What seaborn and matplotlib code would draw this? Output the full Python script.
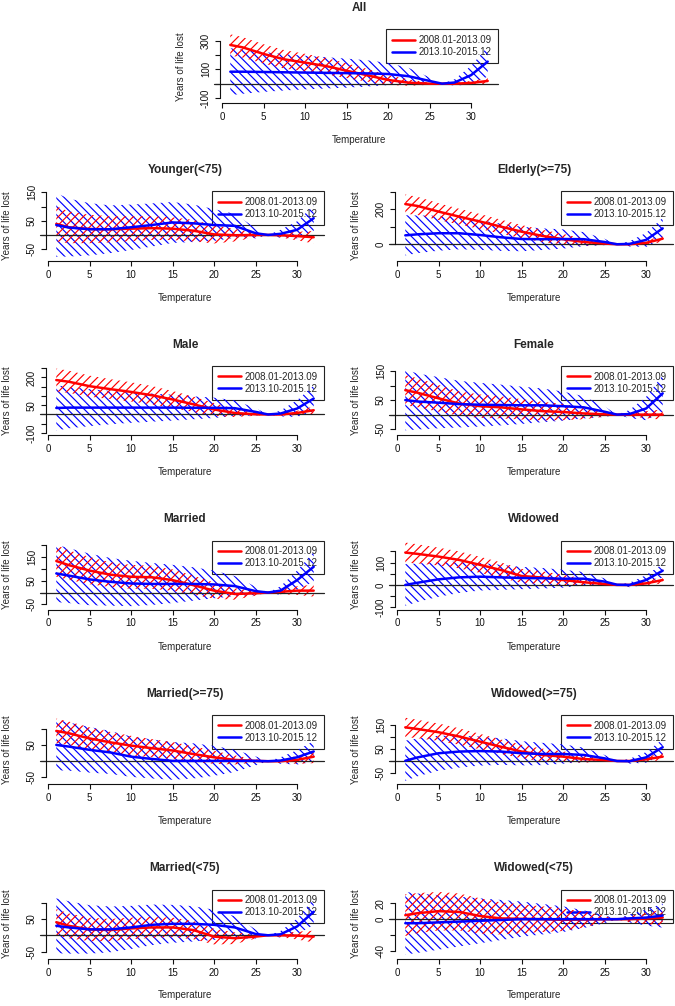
import numpy as np
import pandas as pd
import matplotlib
matplotlib.use("Agg")
import matplotlib.pyplot as plt
from matplotlib.lines import Line2D
import seaborn as sns

# temperature grid
temps = [1, 2.5, 5, 7.5, 10, 12.5, 15, 17.5, 20, 22.5, 25, 26.5, 28, 30, 32]
periods = ["2008.01-2013.09", "2013.10-2015.12"]

# estimate and half width of the CI, red = first period, blue = second
all_red = [272, 255, 209, 171, 148, 124, 91, 59, 26, 7, 0, 0, 0, 5, 19]
all_red_ci = [75, 72, 68, 65, 62, 58, 52, 45, 35, 22, 8, 0, 6, 14, 22]
all_blue = [84, 84, 82, 80, 78, 76, 74, 72, 68, 52, 19, 0, 8, 60, 155]
all_blue_ci = [165, 155, 140, 128, 118, 110, 102, 92, 78, 58, 25, 0, 22, 65, 105]

yng_red = [39, 27, 21, 20, 22, 24, 22, 15, 2, -1, 0, 0, -1, -4, -8]
yng_red_ci = [62, 56, 50, 46, 44, 42, 40, 38, 32, 22, 8, 0, 8, 15, 22]
yng_blue = [35, 26, 20, 20, 27, 35, 44, 41, 35, 32, 6, 0, 4, 18, 59]
yng_blue_ci = [112, 102, 92, 84, 80, 76, 72, 66, 56, 42, 18, 0, 14, 30, 45]

eld_red = [230, 219, 187, 158, 130, 101, 72, 48, 29, 13, 4, 0, 0, 8, 32]
eld_red_ci = [55, 52, 48, 45, 43, 40, 38, 35, 30, 20, 8, 0, 6, 12, 18]
eld_blue = [51, 57, 63, 63, 53, 40, 30, 29, 30, 29, 13, 0, 2, 25, 91]
eld_blue_ci = [115, 108, 100, 92, 85, 78, 70, 62, 55, 40, 18, 0, 15, 40, 60]

male_red = [186, 177, 153, 137, 122, 104, 81, 55, 27, 8, 1, 0, 0, 8, 23]
male_red_ci = [62, 60, 57, 54, 52, 50, 46, 42, 35, 22, 8, 0, 6, 12, 20]
male_blue = [35, 37, 37, 37, 37, 37, 37, 36, 36, 34, 14, 0, 5, 32, 86]
male_blue_ci = [122, 112, 100, 90, 82, 76, 70, 62, 55, 42, 20, 0, 16, 45, 70]

fem_red = [84, 75, 56, 38, 29, 25, 18, 12, 9, 4, 1, 0, 0, 0, 0]
fem_red_ci = [52, 50, 46, 42, 40, 38, 35, 32, 28, 20, 8, 0, 6, 12, 18]
fem_blue = [50, 45, 41, 36, 34, 33, 32, 32, 29, 25, 10, 0, 2, 21, 73]
fem_blue_ci = [104, 96, 88, 80, 75, 70, 64, 58, 50, 38, 18, 0, 14, 40, 62]

mar_red = [132, 115, 92, 75, 66, 64, 52, 31, 8, -6, -3, 0, 3, 8, 8]
mar_red_ci = [66, 62, 57, 52, 50, 48, 45, 40, 34, 24, 10, 0, 10, 18, 25]
mar_blue = [80, 71, 55, 45, 38, 36, 36, 36, 34, 27, 6, 0, 8, 52, 108]
mar_blue_ci = [120, 115, 108, 100, 95, 88, 80, 70, 58, 42, 18, 0, 18, 40, 62]

wid_red = [145, 139, 127, 112, 90, 67, 40, 33, 22, 12, 4, 0, 0, 7, 22]
wid_red_ci = [45, 43, 40, 38, 36, 34, 32, 28, 24, 16, 6, 0, 5, 10, 15]
wid_blue = [0, 10, 25, 34, 37, 34, 31, 30, 28, 28, 15, 1, 0, 22, 64]
wid_blue_ci = [93, 86, 78, 70, 62, 56, 50, 46, 40, 30, 14, 0, 10, 22, 30]

mar75_red = [93, 86, 70, 58, 48, 40, 33, 22, 12, 4, 1, 0, 0, 4, 14]
mar75_red_ci = [38, 36, 34, 32, 30, 28, 26, 24, 20, 14, 5, 0, 5, 12, 20]
mar75_blue = [50, 45, 35, 27, 14, 7, 1, 1, 1, 1, 1, 0, 2, 12, 30]
mar75_blue_ci = [78, 74, 70, 66, 62, 60, 58, 54, 46, 34, 14, 0, 10, 22, 32]

wid75_red = [139, 132, 119, 101, 80, 59, 39, 25, 18, 8, 4, 0, 0, 7, 18]
wid75_red_ci = [40, 38, 36, 34, 32, 30, 28, 26, 22, 15, 6, 0, 5, 10, 15]
wid75_blue = [1, 15, 32, 39, 41, 39, 32, 29, 29, 25, 11, 0, -1, 15, 57]
wid75_blue_ci = [83, 78, 72, 66, 60, 55, 50, 46, 40, 30, 14, 0, 10, 22, 32]

mary_red = [40, 29, 18, 16, 21, 24, 24, 16, -4, -9, -4, 0, 0, -1, -4]
mary_red_ci = [40, 38, 36, 34, 33, 32, 30, 28, 24, 18, 6, 0, 6, 12, 18]
mary_blue = [29, 24, 18, 18, 24, 32, 35, 35, 32, 24, 4, 0, 3, 27, 72]
mary_blue_ci = [84, 80, 74, 70, 66, 62, 58, 54, 46, 34, 14, 0, 10, 24, 40]

widy_red = [5, 7.5, 10, 9, 4, 1, 0.4, 0, -0.8, -0.4, 0, 0, 0, 0.8, 2]
widy_red_ci = [26, 25, 24, 23, 22, 20, 18, 16, 14, 10, 4, 0, 4, 7, 10]
widy_blue = [-5, -5, -4, -3, -2, -1, 0, 0, 0, 0, 0, 0, 1, 2, 4.5]
widy_blue_ci = [39, 37, 34, 31, 28, 25, 22, 19, 16, 11, 5, 0, 5, 10, 15]

sns.set_style("ticks")
plt.rcParams["font.family"] = ["Liberation Sans", "DejaVu Sans"]
plt.rcParams["hatch.linewidth"] = 0.85

W, H = 675, 1006
fig = plt.figure(figsize=(W / 100, H / 100), dpi=100)
PX = 0.72  # points per pixel at dpi 100

RED = "#FF0000"
BLUE = "#0000FF"


def draw_panel(left, bottom, height, title, red, red_ci, blue, blue_ci,
               ylim, yticks, ylabels):
    width = 278
    ax = fig.add_axes([left / W, 1 - bottom / H, width / W, height / H])
    t = np.array(temps, dtype=float)

    # blue band first so the red hatch stays visible on top of it
    for est, ci, col, hatch in ((blue, blue_ci, BLUE, "\\\\\\\\"),
                                (red, red_ci, RED, "////")):
        est = np.array(est, dtype=float)
        ci = np.array(ci, dtype=float)
        ax.fill_between(t, est - ci, est + ci, facecolor="none", edgecolor=col,
                        hatch=hatch, linewidth=0, zorder=2)

    df = pd.DataFrame({
        "temp": temps * 2,
        "yll": list(red) + list(blue),
        "period": [periods[0]] * len(temps) + [periods[1]] * len(temps),
    })
    sns.lineplot(data=df, x="temp", y="yll", hue="period",
                 palette=[RED, BLUE], linewidth=1.8, ax=ax, legend=False,
                 zorder=3)

    ax.axhline(0, xmin=-0.022, xmax=1, color="#222222", lw=0.9, zorder=2.5,
               clip_on=False)

    ax.set_xlim(-0.24, 33.24)
    ax.set_ylim(*ylim)
    ax.set_xticks([0, 5, 10, 15, 20, 25, 30])
    ax.set_yticks(yticks)
    ax.set_yticklabels(ylabels, rotation=90, va="center")
    ax.tick_params(axis="both", length=5 * PX, width=0.8, pad=4 * PX,
                   labelsize=7, colors="#111111")
    ax.spines["top"].set_visible(False)
    ax.spines["right"].set_visible(False)
    ax.spines["left"].set_bounds(yticks[0], yticks[-1])
    ax.spines["bottom"].set_bounds(0, 30)
    for s in ("left", "bottom"):
        ax.spines[s].set_linewidth(0.8)
        ax.spines[s].set_color("#111111")

    ax.set_xlabel("")
    ax.set_ylabel("")
    ax.annotate("Temperature", xy=(0.5, 0), xycoords="axes fraction",
                xytext=(0, -37 * PX), textcoords="offset points",
                ha="center", va="center", fontsize=7)
    ax.annotate("Years of life lost", xy=(0, 0.5), xycoords="axes fraction",
                xytext=(-39 * PX, 0), textcoords="offset points",
                ha="center", va="center", rotation=90, fontsize=7)
    ax.set_title(title, fontsize=8.5, fontweight="bold", pad=18 * PX)

    handles = [Line2D([], [], color=RED, lw=1.8),
               Line2D([], [], color=BLUE, lw=1.8)]
    leg = ax.legend(handles, periods, loc="upper right",
                    bbox_to_anchor=(1, 1), borderaxespad=0, fontsize=7,
                    frameon=True, fancybox=False, framealpha=1,
                    edgecolor="#222222", handlelength=2.3,
                    handletextpad=0.45, borderpad=0.6, labelspacing=0.2)
    leg.get_frame().set_linewidth(0.8)
    leg.set_zorder(1)
    return ax


# All panel on its own row
draw_panel(220, 103.3, 74, "All", all_red, all_red_ci, all_blue, all_blue_ci,
           (-138, 382), [-100, 0, 100, 200, 300],
           ["-100", "", "100", "", "300"])

bottoms = [260.5, 435, 609.5, 784, 958.5]
LEFT, RIGHT = 46, 395
hgt = 69

draw_panel(LEFT, bottoms[0], hgt, "Younger(<75)", yng_red, yng_red_ci,
           yng_blue, yng_blue_ci, (-90, 153), [-50, 0, 50, 100, 150],
           ["-50", "", "50", "", "150"])
draw_panel(RIGHT, bottoms[0], hgt, "Elderly(>=75)", eld_red, eld_red_ci,
           eld_blue, eld_blue_ci, (-93, 302), [0, 100, 200, 300],
           ["0", "", "200", ""])
draw_panel(LEFT, bottoms[1], hgt, "Male", male_red, male_red_ci,
           male_blue, male_blue_ci, (-111, 262),
           [-100, -50, 0, 50, 100, 150, 200, 250],
           ["-100", "", "", "50", "", "", "200", ""])
draw_panel(RIGHT, bottoms[1], hgt, "Female", fem_red, fem_red_ci,
           fem_blue, fem_blue_ci, (-70, 167), [-50, 0, 50, 100, 150],
           ["-50", "", "50", "", "150"])
draw_panel(LEFT, bottoms[2], hgt, "Married", mar_red, mar_red_ci,
           mar_blue, mar_blue_ci, (-71, 218), [-50, 0, 50, 100, 150, 200],
           ["-50", "", "50", "", "150", ""])
draw_panel(RIGHT, bottoms[2], hgt, "Widowed", wid_red, wid_red_ci,
           wid_blue, wid_blue_ci, (-110, 199), [-100, -50, 0, 50, 100, 150],
           ["-100", "", "0", "", "100", ""])
draw_panel(LEFT, bottoms[3], hgt, "Married(>=75)", mar75_red, mar75_red_ci,
           mar75_blue, mar75_blue_ci, (-70, 142), [-50, 0, 50, 100],
           ["-50", "", "50", ""])
draw_panel(RIGHT, bottoms[3], hgt, "Widowed(>=75)", wid75_red, wid75_red_ci,
           wid75_blue, wid75_blue_ci, (-95, 190), [-50, 0, 50, 100, 150],
           ["-50", "", "50", "", "150"])
draw_panel(LEFT, bottoms[4], hgt, "Married(<75)", mary_red, mary_red_ci,
           mary_blue, mary_blue_ci, (-71, 140), [-50, 0, 50, 100],
           ["-50", "", "50", ""])
draw_panel(RIGHT, bottoms[4], hgt, "Widowed(<75)", widy_red, widy_red_ci,
           widy_blue, widy_blue_ci, (-49, 37), [-40, -20, 0, 20],
           ["-40", "", "0", "20"])

fig.savefig("out.png", dpi=100, facecolor="white")
